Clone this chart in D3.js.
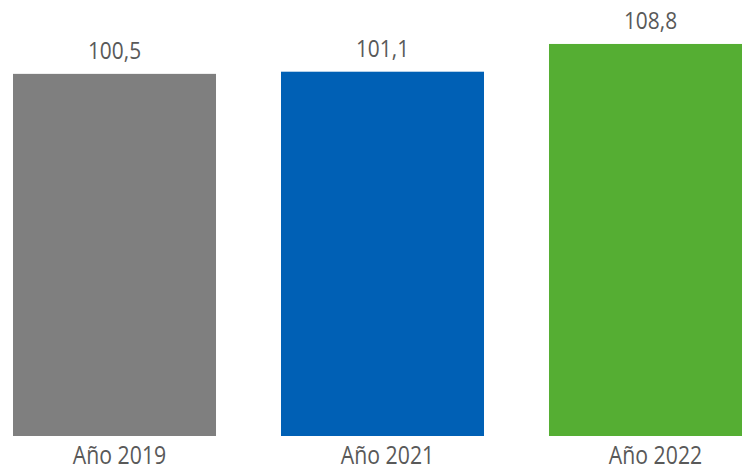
<!DOCTYPE html>
<html>
<head>
<meta charset="utf-8">
<script src="https://cdn.jsdelivr.net/npm/d3@7.9.0/dist/d3.min.js"></script>
<style>
  body { margin: 0; background: #fff; }
  text { font-family: "Open Sans", sans-serif; fill: #595959; }
</style>
</head>
<body>
<svg width="742" height="471"></svg>
<script>
// data
const categories = ['Año 2019', 'Año 2021', 'Año 2022'];
const values = [100.5, 101.1, 108.8];
const colors = ['#7f7f7f', '#0060b5', '#55ae33'];

const svg = d3.select('svg');

const x = d3.scaleBand()
    .domain(categories)
    .range([13, 752])
    .paddingInner(0.2425)
    .paddingOuter(0);

const y = d3.scaleLinear()
    .domain([0, 121])
    .range([436, 0]);

const data = categories.map((c, i) => ({ label: c, value: values[i], color: colors[i] }));

// bars
svg.selectAll('rect')
    .data(data)
    .join('rect')
    .attr('x', d => x(d.label))
    .attr('y', d => y(d.value))
    .attr('width', x.bandwidth())
    .attr('height', d => y(0) - y(d.value))
    .attr('fill', d => d.color);

// value labels (comma decimals)
const fmt = d3.formatLocale({ decimal: ',', thousands: '.', grouping: [3], currency: ['', ''] }).format('.1f');

svg.selectAll('.val')
    .data(data)
    .join('text')
    .attr('class', 'val')
    .attr('text-anchor', 'middle')
    .attr('font-size', 24)
    .attr('transform', d => `translate(${x(d.label) + x.bandwidth() / 2},${y(d.value) - 14.5}) scale(0.87,1)`)
    .text(d => fmt(d.value));

// category labels
svg.selectAll('.cat')
    .data(data)
    .join('text')
    .attr('class', 'cat')
    .attr('text-anchor', 'middle')
    .attr('font-size', 25)
    .attr('transform', d => `translate(${x(d.label) + x.bandwidth() / 2 + 5},464) scale(0.85,1)`)
    .text(d => d.label);
</script>
</body>
</html>
